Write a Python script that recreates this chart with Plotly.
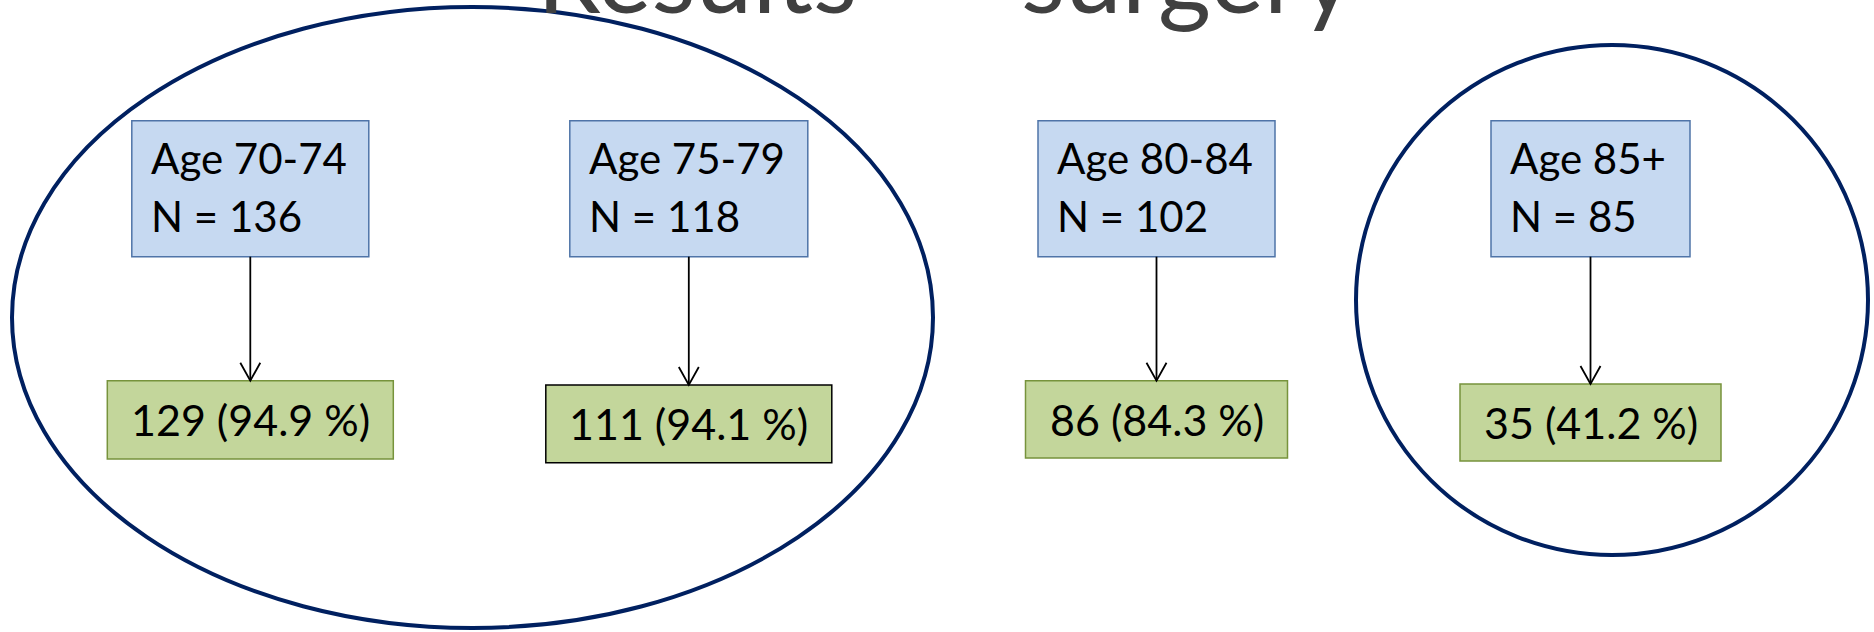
import plotly.graph_objects as go

# ---- data ----
age_groups = ["Age 70-74", "Age 75-79", "Age 80-84", "Age 85+"]
n_total = [136, 118, 102, 85]
n_surgery = [129, 111, 86, 35]
pct_surgery = [94.9, 94.1, 84.3, 41.2]
title_text = "Results \u00a0\u2013\u00a0 surgery"

# ---- layout geometry (pixels, y downward) ----
W, H = 1874, 632
centers_x = [250.3, 688.8, 1156.5, 1590.5]
blue_w = [237, 238, 237, 199]
blue_y = (120.7, 256.7)
green_w = [286, 286, 262, 261]
green_y = [(380.7, 459), (385, 462.7), (380.7, 458), (384, 461)]
green_border = ["#77933C", "#000000", "#77933C", "#77933C"]
ellipses = [(12, 7, 933, 628), (1356, 45, 1868, 555)]

FONT = "Lato, Carlito, Calibri, sans-serif"
fs_blue = 42
fs_green = 43

fig = go.Figure()
shapes = []
annotations = []

for (x0, y0, x1, y1) in ellipses:
    shapes.append(dict(type="circle", xref="x", yref="y", x0=x0, y0=y0, x1=x1, y1=y1,
                       line=dict(color="#002060", width=4), fillcolor="rgba(0,0,0,0)",
                       layer="below"))

for i, label in enumerate(age_groups):
    cx = centers_x[i]
    bx0 = cx - blue_w[i] / 2
    bx1 = cx + blue_w[i] / 2
    shapes.append(dict(type="rect", xref="x", yref="y", x0=bx0, x1=bx1,
                       y0=blue_y[0], y1=blue_y[1],
                       fillcolor="#C6D9F1", line=dict(color="#4F74A8", width=1.5)))
    gy0, gy1 = green_y[i]
    shapes.append(dict(type="rect", xref="x", yref="y", x0=cx - green_w[i] / 2,
                       x1=cx + green_w[i] / 2, y0=gy0, y1=gy1,
                       fillcolor="#C3D69B", line=dict(color=green_border[i], width=1.5)))
    shapes.append(dict(type="line", xref="x", yref="y", x0=cx, x1=cx,
                       y0=blue_y[1], y1=gy0, line=dict(color="black", width=1.8)))
    shapes.append(dict(type="path", xref="x", yref="y",
                       path=f"M {cx-10},{gy0-18} L {cx},{gy0} L {cx+10},{gy0-18}",
                       line=dict(color="black", width=1.8)))
    annotations.append(dict(x=bx0 + 17, y=158, xref="x", yref="y", text=label,
                            showarrow=False, xanchor="left", yanchor="middle",
                            font=dict(family=FONT, size=fs_blue, color="black")))
    annotations.append(dict(x=bx0 + 17, y=216, xref="x", yref="y",
                            text=f"N = {n_total[i]}",
                            showarrow=False, xanchor="left", yanchor="middle",
                            font=dict(family=FONT, size=fs_blue, color="black")))
    annotations.append(dict(x=cx, y=(gy0 + gy1) / 2, xref="x", yref="y",
                            text=f"{n_surgery[i]} ({pct_surgery[i]} %)",
                            showarrow=False, xanchor="center", yanchor="middle",
                            font=dict(family=FONT, size=fs_green, color="black")))

# title partly cut off at the top edge (as in the source slide)
annotations.append(dict(x=945, y=1 + 27 / H, xref="x", yref="paper", text=title_text,
                        showarrow=False, xanchor="center", yanchor="middle",
                        font=dict(family=FONT, size=102, color="#404040")))

fig.update_layout(
    width=W, height=H,
    margin=dict(l=0, r=0, t=0, b=0),
    paper_bgcolor="white", plot_bgcolor="white",
    xaxis=dict(range=[0, W], visible=False, fixedrange=True),
    yaxis=dict(range=[H, 0], visible=False, fixedrange=True),
    shapes=shapes, annotations=annotations, showlegend=False,
)

fig.write_html("out.html", config={"displayModeBar": False},
               post_script="document.body.style.margin='0';document.body.style.overflow='hidden';")
